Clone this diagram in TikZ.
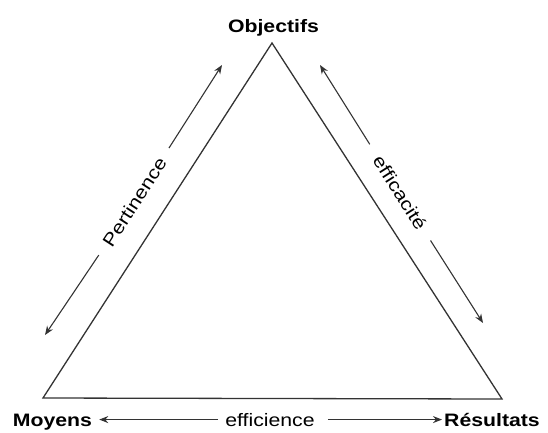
\documentclass[tikz,border=0pt]{standalone}
\usepackage{fontspec}
\setmainfont{Liberation Sans}[FakeStretch=1.18]
\usepackage{tikz}
\usetikzlibrary{arrows.meta,positioning,calc}

\tikzset{
  edge/.style={draw=black!80, line width=1.3pt, line join=miter},
  fleche/.style={draw=black!80, line width=1.1pt, -{Stealth[length=9pt,width=7pt]}},
  sommet/.style={font=\fontsize{18}{20}\selectfont\bfseries, inner sep=0pt, anchor=base},
  critere/.style={font=\fontsize{18}{20}\selectfont, inner sep=0pt}
}

\begin{document}
\begin{tikzpicture}[x=1pt, y=-1pt]
    \useasboundingbox (0,0) rectangle (548,432);

    \coordinate (haut) at (272,43);
    \coordinate (gauche) at (43,398);
    \coordinate (droite) at (502,399);
    \draw [edge] (haut) -- (gauche) -- (droite) -- cycle;

    \node [sommet] (obj) at (273.5,32) {Objectifs};
    \node [sommet] (moy) at (52.5,426) {Moyens};
    \node [sommet] (res) at (492,426) {Résultats};

    % fleches des cotes
    \coordinate (pbas) at (45,335);
    \coordinate (phaut) at (222,65);
    \coordinate (ehaut) at (320,65);
    \coordinate (ebas) at (483,323);
    \node [critere, rotate=57] (pert) at (134.5,202) {Pertinence};
    \node [critere, rotate=-57.5] (effa) at (400,192.5) {efficacité};
    \draw [fleche, shorten <=13pt] (pert) -- (phaut);
    \draw [fleche, shorten <=13pt] (pert) -- (pbas);
    \draw [fleche, shorten <=15pt] (effa) -- (ehaut);
    \draw [fleche, shorten <=15pt] (effa) -- (ebas);

    % base
    \node [critere, anchor=base] (effi) at (270,426) {efficience};
    \draw [fleche, shorten <=7pt, shorten >=7pt] (effi.west) -- (effi.west -| moy.east);
    \draw [fleche, shorten <=13pt, shorten >=2pt] (effi.east) -- (effi.east -| res.west);
\end{tikzpicture}
\end{document}
